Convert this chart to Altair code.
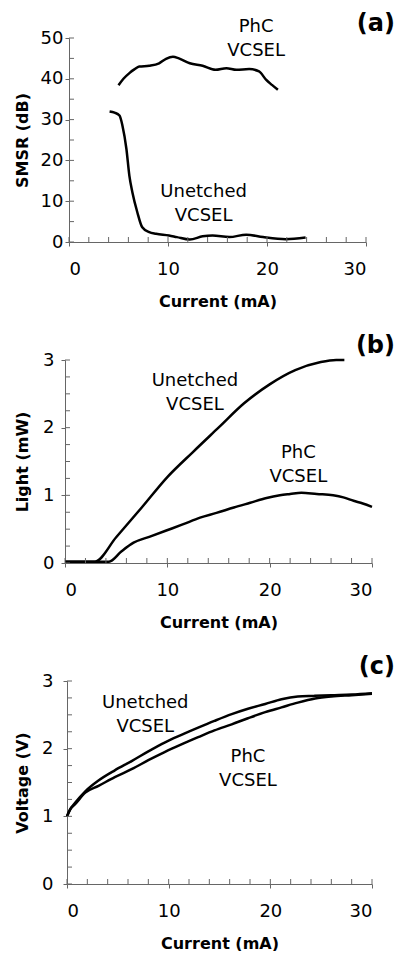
import altair as alt
import pandas as pd

# ---------------- data ----------------
X_MAJOR = [0, 10, 20, 30]
X_MINOR = list(range(0, 31, 2))

A_PHC_X = [5.0, 5.5, 6.1, 6.6, 7.1, 8.1, 9.1, 9.8, 10.5, 11.1, 12.2, 13.5, 14.8, 15.9, 16.9, 18.2, 19.2, 19.9, 20.5, 21.1]
A_PHC_Y = [38.4, 40.0, 41.4, 42.3, 43.0, 43.2, 43.8, 44.9, 45.4, 45.0, 43.8, 43.2, 42.2, 42.6, 42.2, 42.4, 41.8, 39.8, 38.5, 37.3]
A_UNE_X = [4.1, 4.6, 5.1, 5.4, 5.8, 6.1, 6.4, 6.9, 7.4, 8.1, 8.8, 10.1, 10.9, 12.2, 13.5, 14.5, 16.2, 17.9, 19.6, 21.9, 23.9]
A_UNE_Y = [32.0, 31.7, 31.0, 28.5, 22.8, 16.2, 12.2, 7.3, 3.6, 2.4, 2.0, 1.6, 1.2, 0.6, 1.4, 1.6, 1.2, 1.8, 1.2, 0.7, 1.1]

B_UNE_X = [0, 1, 2, 2.9, 5, 7.5, 10, 12.5, 15, 17.5, 20, 22.5, 25, 26.5, 27.3]
B_UNE_Y = [0.02, 0.02, 0.02, 0.02, 0.38, 0.82, 1.27, 1.64, 2.0, 2.36, 2.64, 2.85, 2.97, 3.0, 3.0]
B_PHC_X = [0, 2, 4.3, 5.5, 6.7, 8.3, 9.9, 11.5, 13.2, 14.8, 16.5, 18.1, 19.7, 21, 22, 23.1, 24.6, 26.2, 27.2, 28.2, 29.1, 30]
B_PHC_Y = [0.02, 0.02, 0.02, 0.17, 0.3, 0.39, 0.48, 0.57, 0.67, 0.74, 0.82, 0.89, 0.96, 1.0, 1.02, 1.04, 1.02, 1.0, 0.97, 0.92, 0.88, 0.83]

C_UNE_X = [0, 0.3, 0.8, 1.8, 3.1, 4.7, 6.4, 8.0, 9.6, 11.2, 12.9, 14.5, 16.2, 17.8, 19.5, 21.1, 22.7, 24.3, 26, 28, 30]
C_UNE_Y = [1.0, 1.1, 1.2, 1.37, 1.53, 1.68, 1.82, 1.96, 2.09, 2.20, 2.31, 2.41, 2.51, 2.59, 2.66, 2.73, 2.77, 2.78, 2.79, 2.80, 2.82]
C_PHC_X = [0, 0.3, 0.8, 1.8, 3.1, 4.7, 6.4, 8.0, 9.6, 11.2, 12.9, 14.5, 16.2, 17.8, 19.5, 21.1, 22.7, 24.4, 26, 28, 30]
C_PHC_Y = [1.0, 1.1, 1.18, 1.35, 1.45, 1.58, 1.70, 1.83, 1.95, 2.06, 2.17, 2.27, 2.36, 2.45, 2.54, 2.61, 2.68, 2.74, 2.77, 2.79, 2.81]

A_Y_MAJOR = [0, 10, 20, 30, 40, 50]
A_Y_MINOR = list(range(0, 51, 5))
BC_Y_MAJOR = [0, 1, 2, 3]
BC_Y_MINOR = [i * 0.25 for i in range(13)]

# annotation anchors: position of the first text line
A_ANN = {"label": ["PhC\nVCSEL", "Unetched\nVCSEL"], "x": [18.9, 13.6], "y": [52.7, 12.2]}
B_ANN = {"label": ["Unetched\nVCSEL", "PhC\nVCSEL"], "x": [12.7, 22.8], "y": [2.69, 1.63]}
C_ANN = {"label": ["Unetched\nVCSEL", "PhC\nVCSEL"], "x": [7.7, 17.8], "y": [2.68, 1.87]}

FONT = "DejaVu Sans"
AXC = "#666666"


def lines_df(x1, y1, x2, y2):
    return pd.concat([
        pd.DataFrame({"x": x1, "y": y1, "s": "PhC"}),
        pd.DataFrame({"x": x2, "y": y2, "s": "Unetched"}),
    ])


def panel(df, ydom, ymaj, ymin, W, H, ytitle, ann, tag, tag_dx, lab_pad, ttl_pad):
    xs = alt.Scale(domain=[0, 30], nice=False, zero=False)
    ys = alt.Scale(domain=ydom, nice=False, zero=False)
    xaxis = alt.Axis(values=X_MAJOR, title="Current (mA)", labelPadding=14, titlePadding=15,
                     tickSize=4, format="d")
    yaxis = alt.Axis(values=ymaj, title=ytitle, labelPadding=lab_pad, titlePadding=ttl_pad,
                     tickSize=4, format="d")
    X = alt.X("x:Q", scale=xs, axis=xaxis)
    Y = alt.Y("y:Q", scale=ys, axis=yaxis)
    line = alt.Chart(df).mark_line(color="black", strokeWidth=2.5, interpolate="monotone").encode(
        x=X, y=Y, detail="s:N",
    )
    xm = alt.Chart(pd.DataFrame({"x": X_MINOR})).mark_rule(color=AXC, strokeWidth=1).encode(
        x=X, y=alt.value(H), y2=alt.value(H - 5))
    ym = alt.Chart(pd.DataFrame({"y": ymin})).mark_rule(color=AXC, strokeWidth=1).encode(
        y=Y, x=alt.value(0), x2=alt.value(5))
    txt = alt.Chart(pd.DataFrame(ann)).mark_text(
        font=FONT, fontSize=18, lineBreak="\n", lineHeight=24, align="center",
        baseline="middle", color="black").encode(x=X, y=Y, text="label:N")
    tg = alt.Chart(pd.DataFrame({"t": [tag]})).mark_text(
        font=FONT, fontSize=24, fontWeight="bold", align="right", baseline="middle",
        color="black").encode(x=alt.value(W + tag_dx), y=alt.value(-14), text="t:N")
    return alt.layer(line, ym, xm, txt, tg).properties(width=W, height=H)


def spacer():
    return alt.Chart(pd.DataFrame({"a": [0]})).mark_point(opacity=0, size=0).encode(
        x=alt.value(0), y=alt.value(0)).properties(width=1, height=1)


pa = panel(lines_df(A_PHC_X, A_PHC_Y, A_UNE_X, A_UNE_Y), [0, 50], A_Y_MAJOR, A_Y_MINOR,
           297, 204, "SMSR (dB)", A_ANN, "(a)", 29, 2, 10)
pb = panel(lines_df(B_PHC_X, B_PHC_Y, B_UNE_X, B_UNE_Y), [0, 3], BC_Y_MAJOR, BC_Y_MINOR,
           307, 203, "Light (mW)", B_ANN, "(b)", 23, 7, 12.5)
pc = panel(lines_df(C_PHC_X, C_PHC_Y, C_UNE_X, C_UNE_Y), [0, 3], BC_Y_MAJOR, BC_Y_MINOR,
           305, 203, "Voltage (V)", C_ANN, "(c)", 23, 10, 11.5)

row_a = alt.hconcat(spacer(), pa, spacing=0)
row_b = alt.hconcat(spacer(), pb, spacing=0)
row_c = alt.hconcat(spacer(), pc, spacing=0)

chart = alt.vconcat(row_a, row_b, row_c, spacing=25).properties(
    padding={"left": 5, "top": 4, "right": 0, "bottom": 0}, background="white"
).configure_view(strokeWidth=0).configure_axis(
    grid=False, domainColor=AXC, tickColor=AXC, domainWidth=1, tickWidth=1,
    labelFont=FONT, labelFontSize=18, labelColor="black",
    titleFont=FONT, titleFontSize=16, titleFontWeight="bold", titleColor="black",
)

chart.save("out.html", embed_options={"renderer": "svg", "actions": False})
